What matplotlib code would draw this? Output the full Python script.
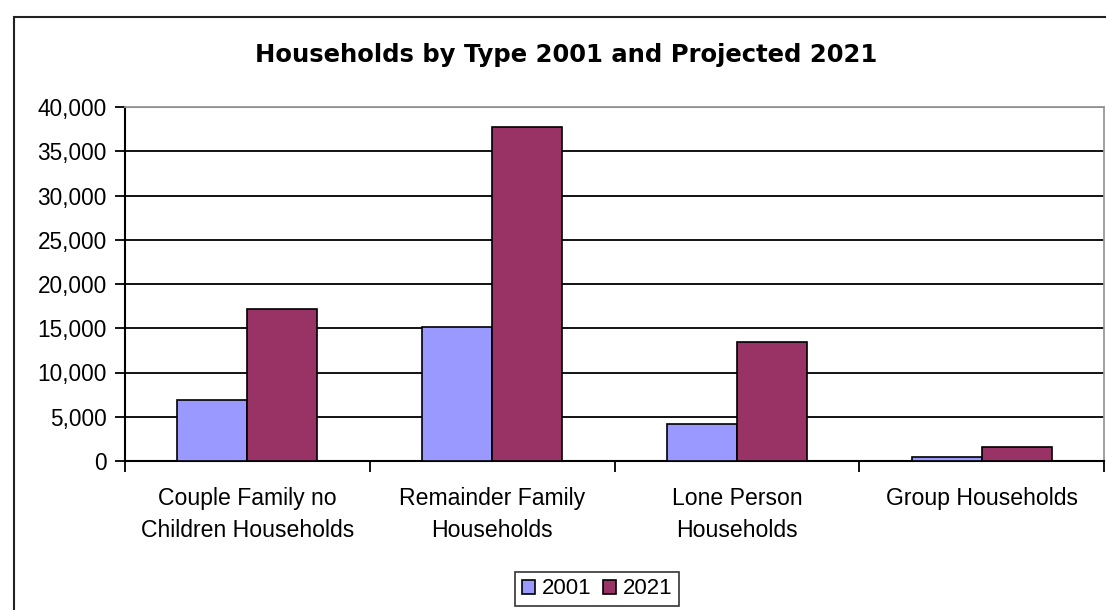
import numpy as np
import matplotlib
matplotlib.use('Agg')
import matplotlib.pyplot as plt
from matplotlib.patches import Rectangle
from matplotlib.ticker import FuncFormatter

# data
categories = ['Couple Family no\nChildren Households', 'Remainder Family\nHouseholds',
              'Lone Person\nHouseholds', 'Group Households']
years = ['2001', '2021']
vals_2001 = [6900, 15100, 4200, 450]
vals_2021 = [17200, 37700, 13400, 1600]
y_ticks = [0, 5000, 10000, 15000, 20000, 25000, 30000, 35000, 40000]

plt.rcParams['font.family'] = ['Liberation Sans', 'DejaVu Sans']

W, H = 1106, 610
fig = plt.figure(figsize=(W / 100, H / 100), dpi=100)
fig.patch.set_facecolor('white')

# chart frame (cut off at right and bottom)
fig.patches.append(Rectangle((14 / W, -0.1), 1.2, 1 - 17 / H + 0.1, transform=fig.transFigure,
                             fill=False, edgecolor='#222222', linewidth=1.5))

ax = fig.add_axes([125 / W, 1 - 461 / H, (1104 - 125) / W, (461 - 107) / H])

x = np.arange(len(categories))
bw = 1 / 3.5
ax.bar(x - bw / 2, vals_2001, bw, color='#9999FF', edgecolor='black', linewidth=1.2, label=years[0], zorder=3)
ax.bar(x + bw / 2, vals_2021, bw, color='#993366', edgecolor='black', linewidth=1.2, label=years[1], zorder=3)

ax.set_xlim(-0.5, len(categories) - 0.5)
ax.set_ylim(0, 40000)
ax.set_yticks(y_ticks)
ax.yaxis.set_major_formatter(FuncFormatter(lambda v, p: f'{int(v):,}'))
ax.yaxis.grid(True, color='black', linewidth=1.3, zorder=0)
ax.tick_params(axis='y', length=7, width=1.3, labelsize=16.3, pad=6, color='black')

ax.set_xticks(x)
ax.set_xticklabels(categories, fontsize=16.6, linespacing=1.5)
ax.tick_params(axis='x', length=0, pad=19)
ax.set_xticks(np.arange(len(categories) + 1) - 0.5, minor=True)
ax.tick_params(axis='x', which='minor', length=8, width=1.3, color='black')

for side in ['top', 'right']:
    ax.spines[side].set_color('#999999')
    ax.spines[side].set_linewidth(1.3)
for side in ['left', 'bottom']:
    ax.spines[side].set_color('black')
    ax.spines[side].set_linewidth(1.5)

fig.text(566 / W, 1 - 55 / H, 'Households by Type 2001 and Projected 2021',
         ha='center', va='center', fontsize=17.5, fontweight='bold', family='DejaVu Sans')

leg = fig.legend(loc='center', bbox_to_anchor=(597 / W, 1 - 589 / H), ncol=2, fontsize=16,
                 frameon=True, fancybox=False, edgecolor='black', handlelength=0.6,
                 handleheight=0.6, handletextpad=0.3, columnspacing=0.5, borderpad=0.3,
                 borderaxespad=0)
leg.get_frame().set_linewidth(1.2)

fig.savefig('out.png', dpi=100, facecolor='white')
